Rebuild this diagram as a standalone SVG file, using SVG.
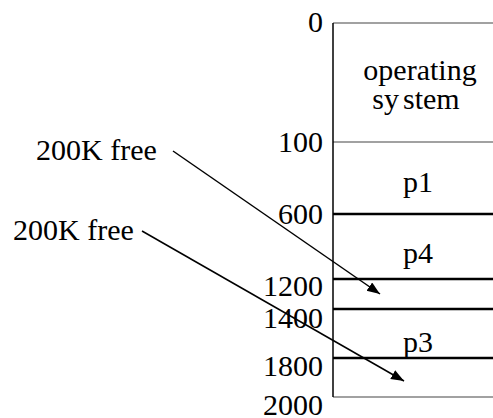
<svg xmlns="http://www.w3.org/2000/svg" width="493" height="418" viewBox="0 0 493 418">
<style>
.thin{stroke:#444;stroke-width:1.2;fill:none}
.thick{stroke:#000;stroke-width:2.5;fill:none}
.arrow{stroke:#000;stroke-width:1.5;fill:none;marker-end:url(#ah)}
</style>
<defs>
<marker id="ah" markerWidth="14" markerHeight="12" refX="13" refY="5" orient="auto" markerUnits="userSpaceOnUse">
<path d="M0,0 L13,5 L0,10 z" fill="#000"/>
</marker>
</defs>
<rect width="493" height="418" fill="#fff"/>
<g id="memory">
<line class="thin" x1="333" y1="23" x2="493" y2="23"/>
<line class="thin" x1="333" y1="142" x2="493" y2="142"/>
<line class="thin" x1="333" y1="397" x2="493" y2="397"/>
<line x1="333" y1="23" x2="333" y2="397" stroke="#000" stroke-width="1.5"/>
</g>
<g font-family="Liberation Serif" font-size="30" fill="#000">
<g id="os" text-anchor="middle">
<text x="420" y="80">operating</text>
<text x="416" y="109">sy<tspan dx="4">stem</tspan></text>
</g>
<g id="p1"><text x="418" y="192" text-anchor="middle">p1</text></g>
<g id="p4"><line class="thick" x1="333" y1="214" x2="493" y2="214"/><text x="418" y="263" text-anchor="middle">p4</text></g>
<g id="hole1"><line class="thick" x1="333" y1="279" x2="493" y2="279"/></g>
<g id="p3"><line class="thick" x1="333" y1="309" x2="493" y2="309"/><text x="418" y="352" text-anchor="middle">p3</text></g>
<g id="hole2"><line class="thick" x1="333" y1="358" x2="493" y2="358"/></g>
<g id="labels" text-anchor="end">
<text x="323" y="32">0</text>
<text x="323" y="152">100</text>
<text x="323" y="224">600</text>
<text x="323" y="296">1200</text>
<text x="323" y="328">1400</text>
<text x="323" y="376">1800</text>
<text x="323" y="415">2000</text>
</g>
<g id="free1"><text x="36" y="160">200K free</text></g>
<g id="free2"><text x="13" y="240">200K free</text></g>
</g>
<g id="connectors">
<line class="arrow" x1="173" y1="151" x2="380" y2="294"/>
<line class="arrow" x1="142" y1="231" x2="404" y2="381"/>
</g>
</svg>
